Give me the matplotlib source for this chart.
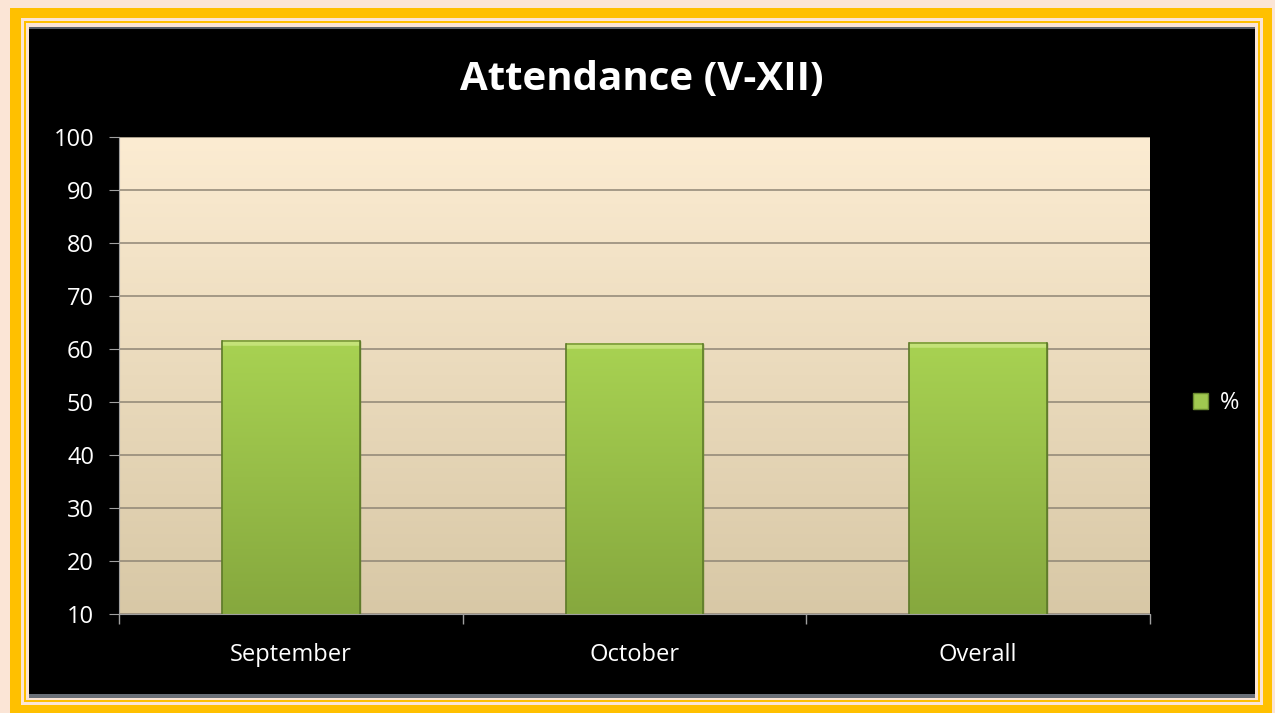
import matplotlib.pyplot as plt
import matplotlib.patches as patches
import numpy as np

months = ['September', 'October', 'Overall']
attendance = [61.6, 61.0, 61.2]
y_ticks = [10, 20, 30, 40, 50, 60, 70, 80, 90, 100]
series_name = '%'

W, H = 1275, 713
fig = plt.figure(figsize=(W / 100, H / 100), dpi=100)
fig.patch.set_facecolor('#fbe5d6')


def px_rect(x0, y0, x1, y1, color, z):
    # rectangle given in pixel coords measured from the top-left
    r = patches.Rectangle((x0 / W, 1 - y1 / H), (x1 - x0) / W, (y1 - y0) / H,
                          transform=fig.transFigure, facecolor=color,
                          edgecolor='none', zorder=z)
    fig.patches.append(r)


# frame: yellow border, thin peach gap, black chart panel
px_rect(10, 8, 1272, 713, '#ffc000', 0)
px_rect(21, 18, 1263, 705, '#fbe5d6', 1)
px_rect(24, 21, 1260, 702, '#ffc000', 1.5)
px_rect(26, 23, 1258, 700, '#fbe5d6', 1.6)
px_rect(29, 27, 1255, 698, '#000000', 2)
px_rect(29, 27, 1255, 29, '#5a6068', 2.5)
px_rect(29, 694, 1255, 698, '#6a7078', 2.5)

ax = fig.add_axes([119 / W, 99 / H, 1031 / W, 477 / H])
ax.set_zorder(3)
ax.set_xlim(-0.5, 2.5)
ax.set_ylim(10, 100)

# plot-area gradient (light cream at top to tan at bottom)
grad = np.linspace(0, 1, 256).reshape(-1, 1)
top = np.array([0xfc, 0xec, 0xd2]) / 255
bot = np.array([0xd8, 0xc8, 0xa6]) / 255
bg = top * (1 - grad[..., None]) + bot * grad[..., None]
bg = np.repeat(bg, 2, axis=1)
ax.imshow(bg, extent=[-0.5, 2.5, 10, 100], aspect='auto', zorder=0)

ax.set_yticks(y_ticks)
ax.yaxis.grid(True, color='#8f8575', linewidth=1.1, zorder=1)
ax.set_axisbelow(True)

bars = ax.bar(range(len(months)), attendance, width=0.4, bottom=0,
              color='#98c048', edgecolor='#6a8a30', linewidth=1.0, zorder=2)

# green gradient inside each bar
bar_top = np.array([0xa8, 0xd2, 0x52]) / 255
bar_bot = np.array([0x86, 0xa8, 0x3e]) / 255
g = np.linspace(0, 1, 256).reshape(-1, 1)
gimg = bar_top * (1 - g[..., None]) + bar_bot * g[..., None]
gimg = np.repeat(gimg, 2, axis=1)
for i, b in enumerate(bars):
    im = ax.imshow(gimg, extent=[i - 0.2, i + 0.2, 10, attendance[i]],
                   aspect='auto', zorder=2.5)
    im.set_clip_path(b)
    # light bevel at the top of the bar
    ax.plot([i - 0.2, i + 0.2], [attendance[i] - 0.5] * 2, color='#c4e278',
            linewidth=4, zorder=2.6, solid_capstyle='butt')
    ax.plot([i - 0.2, i + 0.2], [attendance[i]] * 2, color='#7c9a3a',
            linewidth=1.2, zorder=2.7, solid_capstyle='butt')
    ax.plot([i - 0.2, i - 0.2], [10, attendance[i]], color='#5e7a2a',
            linewidth=1.2, zorder=2.7)
    ax.plot([i + 0.2, i + 0.2], [10, attendance[i]], color='#5e7a2a',
            linewidth=1.2, zorder=2.7)

ax.set_ylim(10, 100)
ax.set_xlim(-0.5, 2.5)
ax.set_xticks(range(len(months)))
ax.set_xticklabels(months)
ax.set_xticks([-0.5, 0.5, 1.5, 2.5], minor=True)
ax.tick_params(axis='x', which='major', length=0, pad=21, labelsize=17,
               labelcolor='white')
ax.tick_params(axis='x', which='minor', length=7, color='#a0a0a0', width=1)
ax.tick_params(axis='y', length=7, color='#a0a0a0', labelsize=17,
               labelcolor='white', pad=11)
for lbl in ax.get_xticklabels() + ax.get_yticklabels():
    lbl.set_family(['Open Sans', 'DejaVu Sans'])

for s in ['top', 'right']:
    ax.spines[s].set_visible(False)
ax.spines['left'].set_color('#a0a0a0')
ax.spines['bottom'].set_color('#a0a0a0')

fig.text(642 / W, 1 - 80 / H, 'Attendance (V-XII)', color='white',
         fontsize=29, fontweight='bold', ha='center', va='center',
         family=['Open Sans', 'DejaVu Sans'], zorder=5)

# legend
leg = fig.legend([patches.Patch(facecolor='#a0c850', edgecolor='#6a8a30')],
                 [series_name], loc='center left',
                 bbox_to_anchor=(1193 / W, 1 - 403 / H), frameon=False,
                 borderpad=0, borderaxespad=0,
                 handlelength=0.65, handleheight=0.65, handletextpad=0.5,
                 labelcolor='white',
                 prop={'family': ['Open Sans', 'DejaVu Sans'], 'size': 17})
leg.set_zorder(5)

fig.savefig('out.png', dpi=100, facecolor=fig.get_facecolor())
